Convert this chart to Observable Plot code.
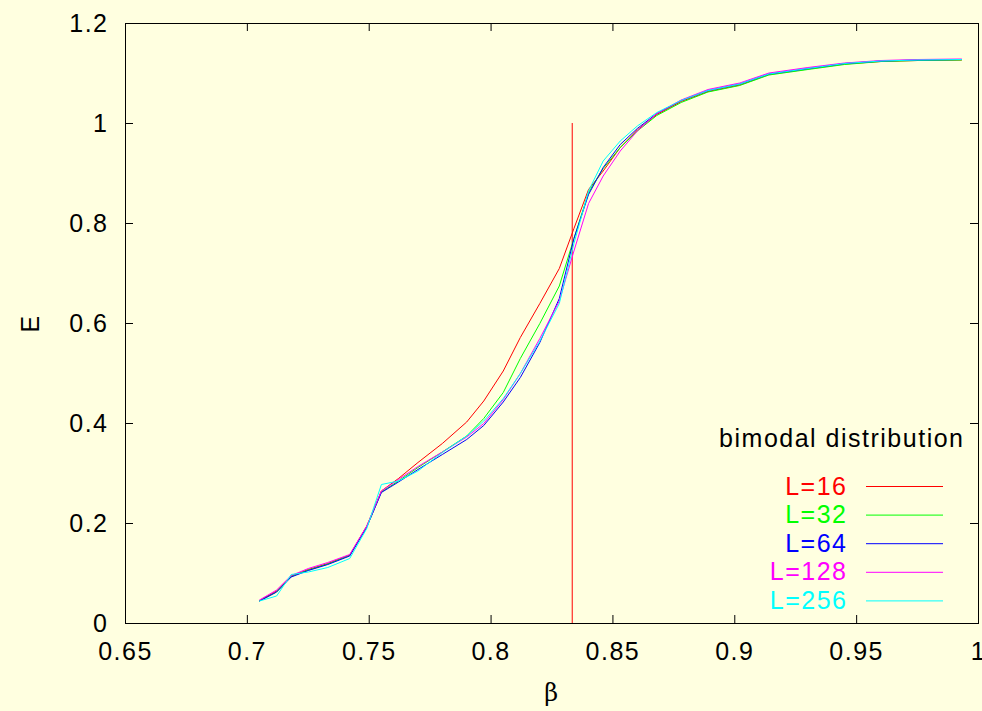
<!DOCTYPE html>
<html><head><meta charset="utf-8">
<script src="https://cdn.jsdelivr.net/npm/d3@7"></script>
<script src="https://cdn.jsdelivr.net/npm/@observablehq/plot@0.6"></script>
<style>html,body{margin:0;padding:0;background:#ffffe0;}</style>
</head><body><div id="chart"></div>
<script>
const beta   = [0.705,0.712,0.718,0.725,0.733,0.742,0.749,0.755,0.762,0.770,0.780,0.790,0.797,0.805,0.812,0.820,0.828,0.834,0.840,0.846,0.853,0.860,0.868,0.878,0.889,0.902,0.914,0.930,0.945,0.960,0.975,0.993];
const E_L16  = [0.046,0.065,0.095,0.108,0.120,0.137,0.195,0.265,0.290,0.322,0.360,0.403,0.445,0.505,0.572,0.640,0.710,0.790,0.868,0.905,0.952,0.987,1.018,1.044,1.064,1.077,1.098,1.109,1.119,1.124,1.126,1.127];
const E_L32  = [0.045,0.063,0.094,0.107,0.119,0.136,0.193,0.263,0.285,0.312,0.343,0.375,0.410,0.462,0.530,0.600,0.675,0.770,0.862,0.910,0.952,0.985,1.016,1.042,1.063,1.076,1.097,1.108,1.118,1.124,1.126,1.127];
const E_L64  = [0.045,0.063,0.093,0.106,0.118,0.135,0.193,0.262,0.283,0.308,0.338,0.368,0.396,0.443,0.492,0.562,0.650,0.770,0.858,0.912,0.958,0.990,1.020,1.046,1.066,1.079,1.099,1.110,1.120,1.125,1.127,1.128];
const E_L128 = [0.047,0.067,0.096,0.110,0.122,0.138,0.195,0.265,0.288,0.314,0.343,0.373,0.400,0.448,0.500,0.570,0.645,0.745,0.840,0.895,0.945,0.985,1.020,1.047,1.068,1.081,1.101,1.112,1.121,1.126,1.128,1.129];
const E_L256 = [0.045,0.055,0.098,0.103,0.112,0.130,0.190,0.278,0.285,0.305,0.342,0.375,0.405,0.450,0.500,0.565,0.640,0.760,0.865,0.925,0.965,0.995,1.022,1.046,1.066,1.079,1.099,1.110,1.120,1.125,1.127,1.128];
const seriesLabels = ["L=16","L=32","L=64","L=128","L=256"];
const seriesColors = ["#ff0000","#00ff00","#0000ff","#ff00ff","#00ffff"];
const seriesValues = [E_L16, E_L32, E_L64, E_L128, E_L256];
const betaCritical = [0.8333];
const criticalSpan = [0, 1];
const xTicks = [0.65,0.7,0.75,0.8,0.85,0.9,0.95,1];
const xTickLabels = ["0.65","0.7","0.75","0.8","0.85","0.9","0.95","1"];
const yTicks = [0,0.2,0.4,0.6,0.8,1,1.2];
const yTickLabels = ["0","0.2","0.4","0.6","0.8","1","1.2"];
const legendTitle = "bimodal distribution";
const xLabel = "β";
const yLabel = "E";

const W = 982, H = 711;
const mL = 125, mT = 23, mR = 4, mB = 88;
const frameW = W - mL - mR, frameH = H - mT - mB;
const tick = 8;
const legendTop = -137, legendStep = 28.6;

const marks = [];
// ticks (inside, mirrored)
marks.push(Plot.tickX(xTicks, {x: d => d, insetTop: frameH - tick, stroke: "#000"}));
marks.push(Plot.tickX(xTicks, {x: d => d, insetBottom: frameH - tick, stroke: "#000"}));
marks.push(Plot.tickY(yTicks, {y: d => d, insetRight: frameW - tick, stroke: "#000"}));
marks.push(Plot.tickY(yTicks, {y: d => d, insetLeft: frameW - tick, stroke: "#000"}));
marks.push(Plot.axisX({ticks: xTicks, tickSize: 0, tickPadding: 19, label: null, tickFormat: d => xTickLabels[xTicks.indexOf(d)]}));
marks.push(Plot.axisY({ticks: yTicks, tickSize: 0, tickPadding: 17, label: null, tickFormat: d => yTickLabels[yTicks.indexOf(d)]}));
// critical line
marks.push(Plot.ruleX(betaCritical, {x: d => d, y1: criticalSpan[0], y2: criticalSpan[1], stroke: "#ff0000", strokeWidth: 1}));
// series
seriesValues.forEach((vals, i) => {
  const rows = beta.map((b, j) => ({beta: b, E: vals[j]}));
  marks.push(Plot.line(rows, {x: "beta", y: "E", stroke: seriesColors[i], strokeWidth: 1}));
});
// legend
marks.push(Plot.text([legendTitle], {frameAnchor: "bottom-right", textAnchor: "end", lineAnchor: "middle", dx: -14, dy: -185, fill: "#000"}));
seriesLabels.forEach((lab, i) => {
  marks.push(Plot.text([lab], {frameAnchor: "bottom-right", textAnchor: "end", lineAnchor: "middle", dx: -131, dy: legendTop + i * legendStep, fill: seriesColors[i]}));
  marks.push(Plot.ruleY([0], {y: d => d, stroke: seriesColors[i], strokeWidth: 1, insetLeft: 741, insetRight: 35, dy: legendTop + i * legendStep}));
});
// axis labels
marks.push(Plot.text([yLabel], {frameAnchor: "left", textAnchor: "middle", lineAnchor: "middle", dx: -95, rotate: -90, fill: "#000"}));
marks.push(Plot.text([xLabel], {frameAnchor: "bottom", textAnchor: "middle", lineAnchor: "middle", dy: 70, fill: "#000", fontFamily: "'DejaVu Serif', 'Liberation Serif', serif", fontSize: 24}));
marks.push(Plot.frame({stroke: "#000", strokeWidth: 1}));

const chart = Plot.plot({
  width: W, height: H,
  marginLeft: mL, marginTop: mT, marginRight: mR, marginBottom: mB,
  x: {domain: [0.65, 1]},
  y: {domain: [0, 1.2]},
  style: {background: "#ffffe0", fontFamily: "'Liberation Sans', Arial, sans-serif", fontSize: "25px", letterSpacing: "1.5px", color: "#000", overflow: "visible"},
  marks
});
document.getElementById("chart").appendChild(chart);
</script>
</body></html>
